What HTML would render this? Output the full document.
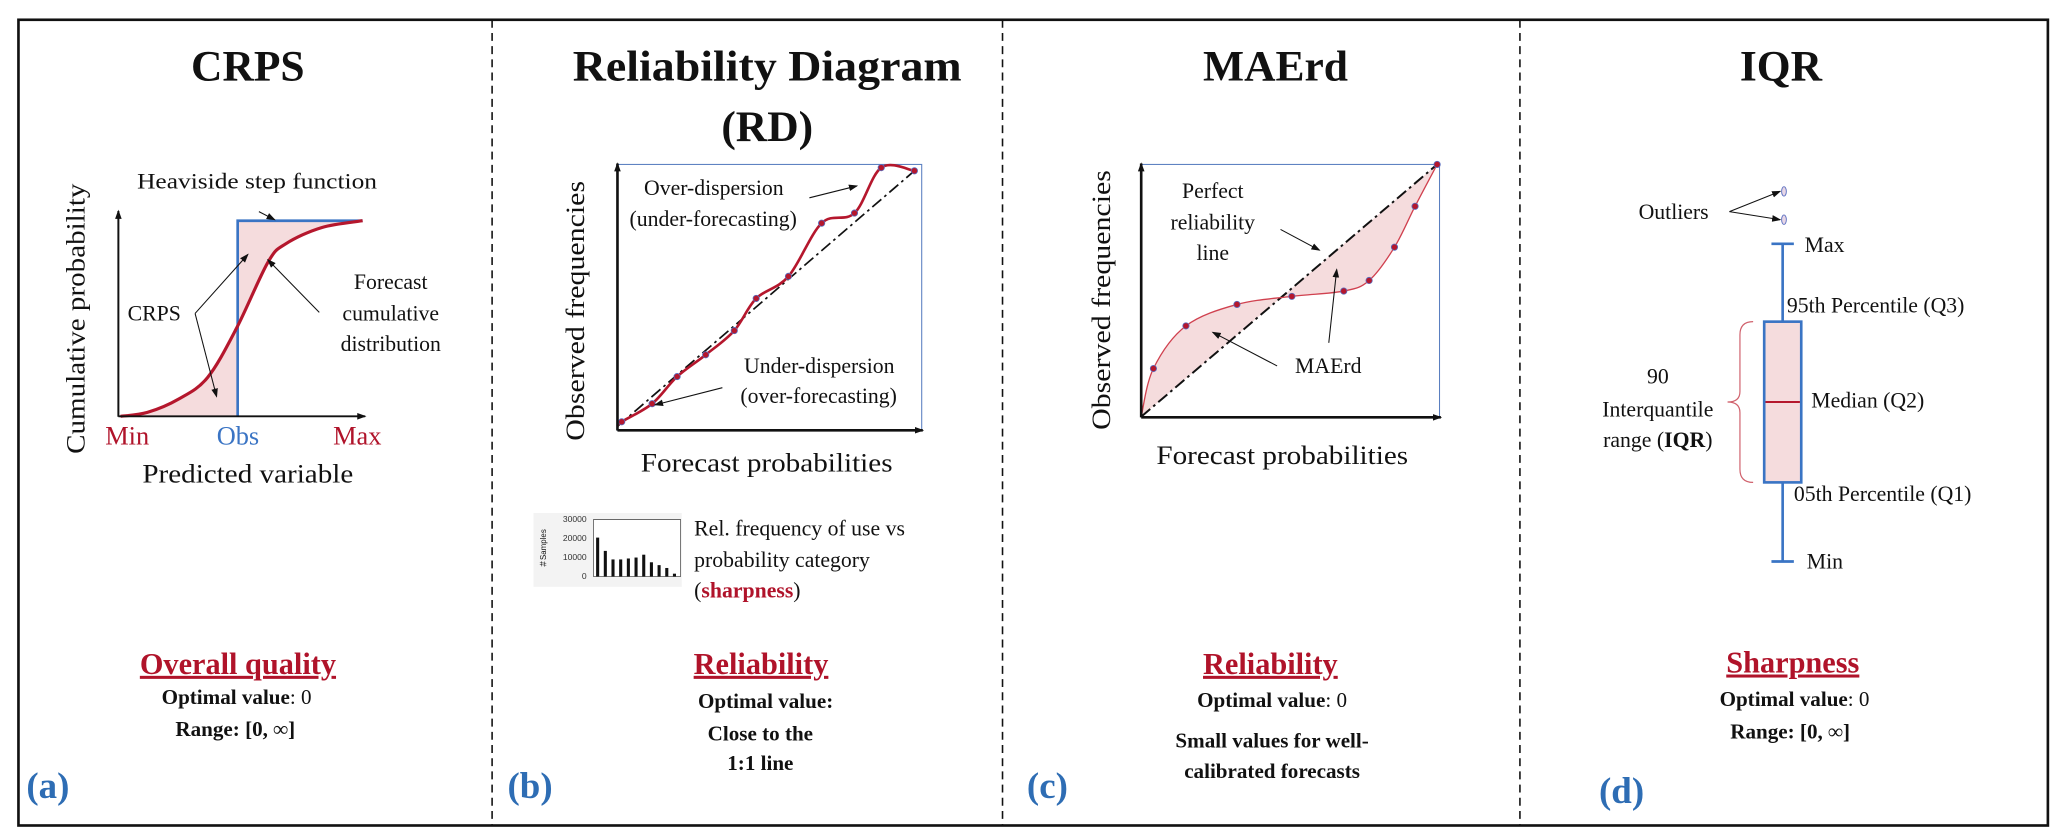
<!DOCTYPE html>
<html><head><meta charset="utf-8">
<style>
html,body{margin:0;padding:0;background:#fff;}
svg{display:block;}
text{font-family:"Liberation Serif",serif;fill:#111;}
.t{font-weight:bold;font-size:33px;text-anchor:middle;}
.ann{font-size:16.5px;}
.ax{font-size:20px;text-anchor:middle;}
.met{font-weight:bold;font-size:23px;fill:#b0132a;text-anchor:middle;text-decoration:underline;}
.opt{font-weight:bold;font-size:16px;text-anchor:middle;}
.let{font-weight:bold;font-size:28px;fill:#2e6db4;}
</style></head>
<body>
<svg id="fig" width="2067" height="840" viewBox="0 0 1568 637" preserveAspectRatio="none" xmlns="http://www.w3.org/2000/svg">
<defs>
<marker id="ah" markerWidth="8" markerHeight="8" refX="7" refY="4" orient="auto" markerUnits="userSpaceOnUse"><path d="M0,1 L8,4 L0,7 z" fill="#111"/></marker>
<marker id="ahs" markerWidth="7" markerHeight="6" refX="6" refY="3" orient="auto" markerUnits="userSpaceOnUse"><path d="M0,0.5 L7,3 L0,5.5 z" fill="#111"/></marker>
</defs>
<rect x="14" y="15" width="1539.5" height="611" fill="none" stroke="#111" stroke-width="2"/>
<line x1="373.3" y1="15" x2="373.3" y2="626" stroke="#111" stroke-width="1.2" stroke-dasharray="6,4"/>
<line x1="760.5" y1="15" x2="760.5" y2="626" stroke="#111" stroke-width="1.2" stroke-dasharray="6,4"/>
<line x1="1153" y1="15" x2="1153" y2="626" stroke="#111" stroke-width="1.2" stroke-dasharray="6,4"/>

<!-- Panel A -->
<g>
<text class="t" x="188" y="61">CRPS</text>
<g id="crpsPlot"></g>
<line x1="89.8" y1="316" x2="89.8" y2="160" stroke="#111" stroke-width="1.5" marker-end="url(#ahs)"/>
<line x1="89.8" y1="315.7" x2="277" y2="315.7" stroke="#111" stroke-width="1.5" marker-end="url(#ahs)"/>
<text class="ann" x="195" y="143" text-anchor="middle" textLength="182" lengthAdjust="spacingAndGlyphs" font-size="17.5">Heaviside step function</text>
<line x1="196.4" y1="160.5" x2="208.3" y2="166.6" stroke="#111" stroke-width="0.8" marker-end="url(#ahs)"/>
<text class="ann" x="117" y="243" text-anchor="middle">CRPS</text>
<line x1="148" y1="237.7" x2="188" y2="193" stroke="#111" stroke-width="0.8" marker-end="url(#ahs)"/>
<line x1="148" y1="237.7" x2="164.3" y2="300.7" stroke="#111" stroke-width="0.8" marker-end="url(#ahs)"/>
<text class="ann" text-anchor="middle"><tspan x="296.4" y="219">Forecast</tspan><tspan x="296.4" y="243">cumulative</tspan><tspan x="296.4" y="266">distribution</tspan></text>
<line x1="242.2" y1="236.9" x2="203.2" y2="197" stroke="#111" stroke-width="0.8" marker-end="url(#ahs)"/>
<text class="ax" x="96.5" y="337" style="fill:#b0132a">Min</text>
<text class="ax" x="180.5" y="337" style="fill:#3a74c4">Obs</text>
<text class="ax" x="271" y="337" style="fill:#b0132a">Max</text>
<text class="ax" x="188" y="366" textLength="160" lengthAdjust="spacingAndGlyphs">Predicted variable</text>
<text class="ax" transform="translate(64,241.7) rotate(-90)" x="0" y="0" textLength="205" lengthAdjust="spacingAndGlyphs">Cumulative probability</text>
<text class="met" x="180.5" y="511">Overall quality</text>
<text class="opt" x="179.5" y="534">Optimal value<tspan font-weight="normal">: 0</tspan></text>
<text class="opt" x="178.5" y="558">Range: [0, ∞]</text>
<text class="let" x="20" y="605">(a)</text>
</g>

<!-- Panel B -->
<g>
<text class="t" x="582" y="61" textLength="295" lengthAdjust="spacingAndGlyphs">Reliability Diagram</text>
<text class="t" x="582" y="107">(RD)</text>
<rect x="468.4" y="124.7" width="230.8" height="201.6" fill="none" stroke="#5a7fc0" stroke-width="0.8"/>
<g id="rdPlot"></g>
<line x1="468.4" y1="326.5" x2="468.4" y2="124" stroke="#111" stroke-width="2" marker-end="url(#ahs)"/>
<line x1="468.4" y1="326.3" x2="700" y2="326.3" stroke="#111" stroke-width="2" marker-end="url(#ahs)"/>
<text class="ann" text-anchor="middle"><tspan x="541.5" y="148">Over-dispersion</tspan><tspan x="541" y="171.5">(under-forecasting)</tspan></text>
<line x1="614" y1="150" x2="650" y2="141" stroke="#111" stroke-width="0.8" marker-end="url(#ahs)"/>
<text class="ann" text-anchor="middle"><tspan x="621.5" y="283">Under-dispersion</tspan><tspan x="621" y="305.5">(over-forecasting)</tspan></text>
<line x1="548" y1="294" x2="497" y2="307" stroke="#111" stroke-width="0.8" marker-end="url(#ahs)"/>
<text class="ax" transform="translate(443,235.7) rotate(-90)" x="0" y="0" textLength="197" lengthAdjust="spacingAndGlyphs">Observed frequencies</text>
<text class="ax" x="581.6" y="357.5" textLength="191" lengthAdjust="spacingAndGlyphs">Forecast probabilities</text>
<rect x="404.7" y="389" width="112.5" height="56" fill="#f3f3f3"/>
<g id="histPlot"></g>
<text transform="translate(414,416) rotate(-90)" font-size="6" text-anchor="middle" style="font-family:'Liberation Sans',sans-serif">＃Samples</text>
<text class="ann"><tspan x="526.6" y="406">Rel. frequency of use vs</tspan><tspan x="526.6" y="430">probability category</tspan><tspan x="526.6" y="453">(<tspan font-weight="bold" style="fill:#b0132a">sharpness</tspan>)</tspan></text>
<text class="met" x="577.3" y="511">Reliability</text>
<text class="opt" x="580.8" y="537">Optimal value:</text>
<text class="opt" x="576.8" y="561.5">Close to the</text>
<text class="opt" x="576.8" y="584">1:1 line</text>
<text class="let" x="385" y="605">(b)</text>
</g>

<!-- Panel C -->
<g>
<text class="t" x="967.6" y="61">MAErd</text>
<rect x="865.7" y="124.7" width="226.3" height="191.3" fill="none" stroke="#5a7fc0" stroke-width="0.8"/>
<g id="maPlot"></g>
<line x1="865.7" y1="316.5" x2="865.7" y2="124" stroke="#111" stroke-width="2" marker-end="url(#ahs)"/>
<line x1="865.7" y1="316.5" x2="1093" y2="316.5" stroke="#111" stroke-width="2" marker-end="url(#ahs)"/>
<text class="ann" text-anchor="middle"><tspan x="920" y="150">Perfect</tspan><tspan x="920" y="174">reliability</tspan><tspan x="920" y="197">line</tspan></text>
<line x1="971.4" y1="174" x2="1000.9" y2="189.7" stroke="#111" stroke-width="0.8" marker-end="url(#ahs)"/>
<text class="ann" x="1007.6" y="283" text-anchor="middle">MAErd</text>
<line x1="968.8" y1="277.5" x2="920" y2="252" stroke="#111" stroke-width="0.8" marker-end="url(#ahs)"/>
<line x1="1008" y1="260" x2="1014" y2="204.4" stroke="#111" stroke-width="0.8" marker-end="url(#ahs)"/>
<text class="ax" transform="translate(842,227.5) rotate(-90)" x="0" y="0" textLength="197" lengthAdjust="spacingAndGlyphs">Observed frequencies</text>
<text class="ax" x="972.7" y="352" textLength="191" lengthAdjust="spacingAndGlyphs">Forecast probabilities</text>
<text class="met" x="963.7" y="511">Reliability</text>
<text class="opt" x="965" y="536">Optimal value<tspan font-weight="normal">: 0</tspan></text>
<text class="opt" x="965" y="567">Small values for well-</text>
<text class="opt" x="965" y="590">calibrated forecasts</text>
<text class="let" x="779" y="605">(c)</text>
</g>

<!-- Panel D -->
<g>
<text class="t" x="1351" y="61">IQR</text>
<g id="boxPlot"></g>
<text class="ann" x="1243" y="166">Outliers</text>
<text class="ann" x="1369" y="191">Max</text>
<text class="ann" x="1355.5" y="237">95th Percentile (Q3)</text>
<text class="ann" x="1374" y="309">Median (Q2)</text>
<text class="ann" x="1360.8" y="380">05th Percentile (Q1)</text>
<text class="ann" x="1370.6" y="431">Min</text>
<text class="ann" text-anchor="middle"><tspan x="1257.6" y="291">90</tspan><tspan x="1257.6" y="316">Interquantile</tspan><tspan x="1257.6" y="339">range (<tspan font-weight="bold">IQR</tspan>)</tspan></text>
<text class="met" x="1360" y="510">Sharpness</text>
<text class="opt" x="1361.3" y="535.5">Optimal value<tspan font-weight="normal">: 0</tspan></text>
<text class="opt" x="1358" y="560">Range: [0, ∞]</text>
<text class="let" x="1213" y="609">(d)</text>
</g>
</svg>
<script>
// ---------- data ----------
const crpsX = [0.009, 0.118, 0.245, 0.363, 0.482, 0.609, 0.682, 0.828, 0.995];
const crpsY = [0.0, 0.02, 0.088, 0.198, 0.452, 0.787, 0.882, 0.965, 1.0];
const crpsObs = 0.486;
const rdProb = [0.014, 0.114, 0.196, 0.290, 0.384, 0.456, 0.562, 0.671, 0.779, 0.867, 0.976];
const rdObs = [0.032, 0.10, 0.202, 0.284, 0.375, 0.496, 0.579, 0.779, 0.817, 0.988, 0.976];
const histValues = [20500, 13500, 9000, 9000, 9500, 10000, 11500, 7500, 6000, 4500, 1500];
const histTicks = [0, 10000, 20000, 30000];
const maProb = [0.0, 0.041, 0.15, 0.321, 0.505, 0.679, 0.764, 0.849, 0.918, 0.992];
const maObs = [0.0, 0.191, 0.36, 0.445, 0.477, 0.498, 0.54, 0.672, 0.834, 1.0];
const boxMin = 0, boxQ1 = 24.9, boxMedian = 50.2, boxQ3 = 75.5, boxMax = 100;
const outlierValues = [107.6, 116.5];

const NS = "http://www.w3.org/2000/svg";
function mk(tag, parent, attrs) {
  const e = document.createElementNS(NS, tag);
  for (const k in attrs) e.setAttribute(k, attrs[k]);
  parent.appendChild(e);
  return e;
}
function smooth(pts) {
  let d = "M" + pts[0][0] + "," + pts[0][1];
  for (let i = 0; i < pts.length - 1; i++) {
    const p0 = pts[i - 1] || pts[i], p1 = pts[i], p2 = pts[i + 1], p3 = pts[i + 2] || p2;
    const c1 = [p1[0] + (p2[0] - p0[0]) / 6, p1[1] + (p2[1] - p0[1]) / 6];
    const c2 = [p2[0] - (p3[0] - p1[0]) / 6, p2[1] - (p3[1] - p1[1]) / 6];
    d += " C" + c1 + " " + c2 + " " + p2;
  }
  return d;
}
const RED = "#b5172d", BLUE = "#3a74c4", PINK = "#f5dcdd";

(function () {
  const g = document.getElementById("crpsPlot");
  const sx = v => 89.8 + v * 186.2, sy = v => 315.7 - v * 148.3;
  const pts = crpsX.map((x, i) => [sx(x), sy(crpsY[i])]);
  const c = smooth(pts);
  const fill = mk("path", g, { d: c + " L" + sx(crpsObs) + "," + sy(1) + " L" + sx(crpsObs) + "," + sy(0) + " Z", fill: PINK, "fill-rule": "evenodd" });
  
  
  const step = mk("path", g, { d: "M" + sx(crpsObs) + "," + sy(0) + " L" + sx(crpsObs) + "," + sy(1) + " L" + sx(crpsX[crpsX.length - 1]) + "," + sy(1), fill: "none", stroke: BLUE, "stroke-width": 2 });
  
  
  const line = mk("path", g, { d: c, fill: "none", stroke: RED, "stroke-width": 2.4 });
  
  
})();

(function () {
  const g = document.getElementById("rdPlot");
  const sx = v => 468.4 + v * 230.8, sy = v => 326.3 - v * 201.6;
  const diag = mk("line", g, { x1: sx(0), y1: sy(0.015), x2: sx(0.976), y2: sy(0.976), stroke: "#111", "stroke-width": 1.3, "stroke-dasharray": "9,3,2,3" });
  
  
  const pts = rdProb.map((x, i) => [sx(x), sy(rdObs[i])]);
  const line = mk("path", g, { d: smooth([[sx(0), sy(0.015)]].concat(pts)), fill: "none", stroke: RED, "stroke-width": 2 });
  
  
  pts.forEach(p => {
    const pt = mk("circle", g, { cx: p[0], cy: p[1], r: 2.4, fill: RED, stroke: "#5a6fc0", "stroke-width": 0.6 });
    
    
  });
})();

(function () {
  const g = document.getElementById("histPlot");
  const x0 = 450.2, x1 = 516.3;
  const sy = v => 437.2 - v / 30000 * 43.2;
  const fr = mk("path", g, { d: "M" + x0 + "," + sy(30000) + " H" + x1 + " V" + sy(0) + " H" + x0 + " Z", fill: "#fff", stroke: "#555", "stroke-width": 0.6 });
  
  
  histTicks.forEach(t => {
    const tx = mk("text", g, { x: 445, y: sy(t) + 2, "font-size": 6.5, "text-anchor": "end", style: "font-family:'Liberation Sans',sans-serif;fill:#333" });
    tx.textContent = t;
    
    
  });
  const slot = (x1 - x0 - 2) / histValues.length;
  histValues.forEach((v, i) => {
    const b = mk("rect", g, { x: x0 + 2 + i * slot, y: sy(v), width: slot * 0.4, height: sy(0) - sy(v), fill: "#111" });
    
    
  });
})();

(function () {
  const g = document.getElementById("maPlot");
  const sx = v => 865.7 + v * 226.3, sy = v => 316 - v * 191.3;
  const pts = maProb.map((x, i) => [sx(x), sy(maObs[i])]);
  const c = smooth(pts);
  const last = maProb.length - 1;
  const area = mk("path", g, { d: c + " L" + sx(maProb[0]) + "," + sy(maObs[0]) + " Z", fill: PINK, "fill-rule": "evenodd" });
  
  
  const diag = mk("line", g, { x1: sx(maProb[0]), y1: sy(maObs[0]), x2: sx(maProb[last]), y2: sy(maObs[last]), stroke: "#111", "stroke-width": 1.5, "stroke-dasharray": "9,3,2,3" });
  
  
  const line = mk("path", g, { d: c, fill: "none", stroke: "#d0414f", "stroke-width": 1 });
  
  
  pts.slice(1).forEach(p => {
    const pt = mk("circle", g, { cx: p[0], cy: p[1], r: 2.4, fill: RED, stroke: "#5a6fc0", "stroke-width": 0.6 });
    
    
  });
})();

(function () {
  const g = document.getElementById("boxPlot");
  const sy = v => 425.8 - v / 100 * 240.9;
  const cx = 1352.3, bx0 = 1338.3, bx1 = 1366.4;
  const w1 = mk("line", g, { x1: cx, y1: sy(boxMax), x2: cx, y2: sy(boxQ3), stroke: BLUE, "stroke-width": 2 });
  
  
  const w2 = mk("line", g, { x1: cx, y1: sy(boxQ1), x2: cx, y2: sy(boxMin), stroke: BLUE, "stroke-width": 2 });
  
  
  const capT = mk("line", g, { x1: cx - 8.5, y1: sy(boxMax), x2: cx + 8.5, y2: sy(boxMax), stroke: BLUE, "stroke-width": 2 });
  
  
  const capB = mk("line", g, { x1: cx - 8.5, y1: sy(boxMin), x2: cx + 8.5, y2: sy(boxMin), stroke: BLUE, "stroke-width": 2 });
  
  
  const box = mk("rect", g, { x: bx0, y: sy(boxQ3), width: bx1 - bx0, height: sy(boxQ1) - sy(boxQ3), fill: PINK, stroke: BLUE, "stroke-width": 2 });
  
  
  const med = mk("line", g, { x1: bx0 + 1, y1: sy(boxMedian), x2: bx1 - 1, y2: sy(boxMedian), stroke: RED, "stroke-width": 1.5 });
  
  
  const t = sy(boxQ3), b = sy(boxQ1), m = sy(boxMedian), xr = 1329.9, xl = 1310.5;
  const brace = mk("path", g, { d: "M" + xr + "," + t + " Q" + (xr - 10) + "," + t + " " + (xr - 10) + "," + (t + 10) + " L" + (xr - 10) + "," + (m - 8) + " Q" + (xr - 10) + "," + m + " " + xl + "," + m + " Q" + (xr - 10) + "," + m + " " + (xr - 10) + "," + (m + 8) + " L" + (xr - 10) + "," + (b - 10) + " Q" + (xr - 10) + "," + b + " " + xr + "," + b, fill: "none", stroke: "#d0616c", "stroke-width": 0.9 });
  
  
  outlierValues.forEach(v => {
    const o = mk("ellipse", g, { cx: cx + 1, cy: sy(v), rx: 1.8, ry: 3.6, fill: "#e7d6e6", stroke: "#5a6fc0", "stroke-width": 0.7 });
    
    
    const a = mk("line", g, { x1: 1311.9, y1: 160.5, x2: cx - 2, y2: sy(v), stroke: "#111", "stroke-width": 0.8, "marker-end": "url(#ahs)" });
    
    
  });
})();
</script>
</body></html>
